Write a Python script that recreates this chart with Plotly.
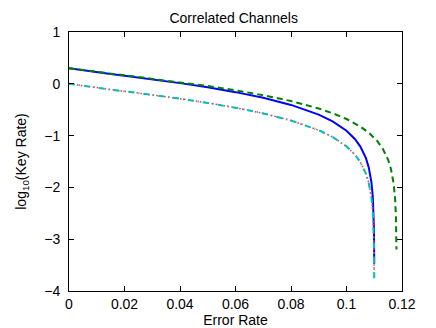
import plotly.graph_objects as go

# Error rate grid and key-rate curves (log10)
error_rate = [0, 0.005, 0.01, 0.015, 0.02, 0.03, 0.04, 0.05, 0.06, 0.07, 0.08,
              0.09, 0.095, 0.1, 0.103, 0.105, 0.107, 0.108, 0.109, 0.1095,
              0.1098, 0.1099, 0.11]
blue_rate = [0.3010, 0.2597, 0.2245, 0.1905, 0.1566, 0.0873, 0.0132, -0.0683,
             -0.1610, -0.2706, -0.4075, -0.5950, -0.7253, -0.9065, -1.0642,
             -1.2119, -1.4343, -1.6094, -1.9058, -2.195, -2.561, -2.811, -3.474]
red_rate = [0.0, -0.0414, -0.0765, -0.1106, -0.1444, -0.2138, -0.2878, -0.3694,
            -0.4620, -0.5716, -0.7085, -0.8960, -1.0263, -1.2076, -1.3652,
            -1.5129, -1.7353, -1.9104, -2.2068, -2.496, -2.862, -3.112, -3.775]
cyan_rate = red_rate

error_rate_green = [0, 0.005, 0.01, 0.015, 0.02, 0.03, 0.04, 0.05, 0.06, 0.07,
                    0.08, 0.09, 0.095, 0.1, 0.105, 0.108, 0.111, 0.113, 0.115,
                    0.116, 0.117, 0.1175, 0.1178, 0.1179, 0.118]
green_rate = [0.3010, 0.2617, 0.2283, 0.1962, 0.1643, 0.0996, 0.0313, -0.0427,
              -0.1252, -0.2199, -0.3333, -0.4772, -0.5680, -0.6797, -0.8259,
              -0.9424, -1.0996, -1.2464, -1.4670, -1.6394, -1.9306, -2.2096,
              -2.5464, -2.762, -3.2007]

font = "Liberation Sans, Arial, Helvetica, sans-serif"

fig = go.Figure()
fig.add_trace(go.Scatter(x=error_rate, y=blue_rate, mode="lines",
                         line=dict(color="#0000ff", width=2)))
fig.add_trace(go.Scatter(x=error_rate_green, y=green_rate, mode="lines",
                         line=dict(color="#008000", width=2, dash="6px,4px")))
fig.add_trace(go.Scatter(x=error_rate, y=red_rate, mode="lines",
                         line=dict(color="#ff3030", width=1.5, dash="1.5px,2.5px")))
fig.add_trace(go.Scatter(x=error_rate, y=cyan_rate, mode="lines",
                         line=dict(color="#00bfbf", width=2, dash="6px,4px,1px,4px")))

axis_common = dict(showline=True, linecolor="black", linewidth=1, mirror="ticks",
                   ticks="inside", ticklen=5, tickcolor="black", showgrid=False,
                   zeroline=False, tickfont=dict(size=14, color="black", family=font))

fig.update_xaxes(range=[0, 0.12], dtick=0.02, tick0=0,
                 title=dict(text="Error Rate", font=dict(size=14, color="black", family=font),
                            standoff=2),
                 **axis_common)
fig.update_yaxes(range=[-4, 1], dtick=1, tick0=0, ticklabelstandoff=5,
                 title=dict(text="log<sub>10</sub>(Key Rate)",
                            font=dict(size=14, color="black", family=font), standoff=14),
                 **axis_common)

fig.update_layout(
    width=436, height=328,
    margin=dict(l=57, r=42, t=24, b=38),
    paper_bgcolor="white", plot_bgcolor="white",
    showlegend=False,
    title=dict(text="Correlated Channels", x=0.5176, xanchor="center", y=0.985, yanchor="top",
               font=dict(size=14, color="black", family=font)),
    font=dict(family=font, color="black"),
)

fig.write_html("out.html")
